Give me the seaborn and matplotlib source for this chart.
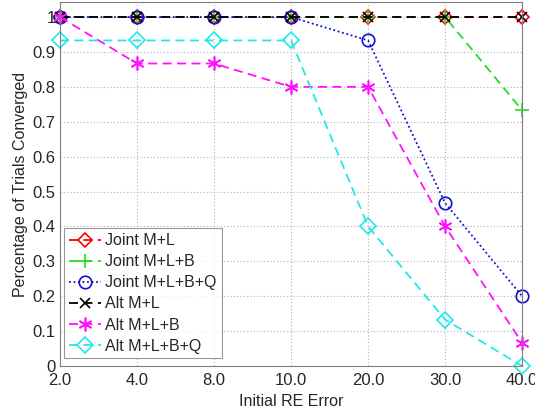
import numpy as np
import pandas as pd
import matplotlib
matplotlib.use('Agg')
import matplotlib.pyplot as plt
import seaborn as sns

# Dados
categorias = ['2.0', '4.0', '8.0', '10.0', '20.0', '30.0', '40.0']
joint_ml = [1, 1, 1, 1, 1, 1, 1]
joint_mlb = [1, 1, 1, 1, 1, 1, 0.733]
joint_mlbq = [1, 1, 1, 1, 0.933, 0.467, 0.2]
alt_ml = [1, 1, 1, 1, 1, 1, 1]
alt_mlb = [1, 0.867, 0.867, 0.8, 0.8, 0.4, 0.0667]
alt_mlbq = [0.933, 0.933, 0.933, 0.933, 0.4, 0.133, 0.0]

# (rótulo, valores, cor, marcador, tracejado, tamanho)
series = [
    ('Joint M+L', joint_ml, 'red', 'D', (5, 3), 7),
    ('Joint M+L+B', joint_mlb, '#22dd22', '+', (5, 3), 10),
    ('Joint M+L+B+Q', joint_mlbq, '#1010d0', 'o', (1, 1.5), 9),
    ('Alt M+L', alt_ml, 'black', 'x', (5, 3), 7),
    ('Alt M+L+B', alt_mlb, '#ff11ff', (6, 2, 0), (5, 3), 10),
    ('Alt M+L+B+Q', alt_mlbq, '#22e8e8', 'D', (5, 3), 8),
]

sns.set_style('white')
plt.rcParams['font.family'] = ['Liberation Sans', 'DejaVu Sans']

fig = plt.figure(figsize=(5.35, 4.15), dpi=100)
ax = fig.add_axes([0.112, 0.118, 0.864, 0.877])

x = np.arange(len(categorias))
for label, vals, color, marker, dashes, ms in series:
    df = pd.DataFrame({'x': x, 'y': vals})
    sns.lineplot(data=df, x='x', y='y', ax=ax, color=color, marker=marker,
                 markersize=ms, markerfacecolor='none', markeredgecolor=color,
                 markeredgewidth=1.2, linewidth=1.3, dashes=dashes, label=label,
                 clip_on=False)

ax.set_xlim(0, 6)
ax.set_ylim(0, 1.043)
ax.set_xticks(x)
ax.set_xticklabels(categorias)
ax.set_yticks(np.arange(0, 1.01, 0.1))
ax.set_yticklabels(['0', '0.1', '0.2', '0.3', '0.4', '0.5', '0.6', '0.7', '0.8', '0.9', '1'])
ax.grid(True, color='#b0b0b0', linestyle=(0, (1, 2)), linewidth=0.8)
ax.tick_params(direction='in', length=4, labelsize=12, color='#555555', pad=3)
ax.tick_params(axis='x', pad=5)
for s in ax.spines.values():
    s.set_color('#7f7f7f')
    s.set_linewidth(0.8)
ax.set_xlabel('Initial RE Error', fontsize=11.5, labelpad=4)
ax.set_ylabel('Percentage of Trials Converged', fontsize=11.5, labelpad=3)

leg = ax.legend(loc='lower left', bbox_to_anchor=(0.0, 0.01), fontsize=11.5,
                frameon=True, fancybox=False, edgecolor='#7f7f7f',
                handlelength=2.0, handletextpad=0.3, labelspacing=0.38,
                borderpad=0.3, borderaxespad=0.25)
leg.get_frame().set_linewidth(0.8)

fig.savefig('out.png', dpi=100)
